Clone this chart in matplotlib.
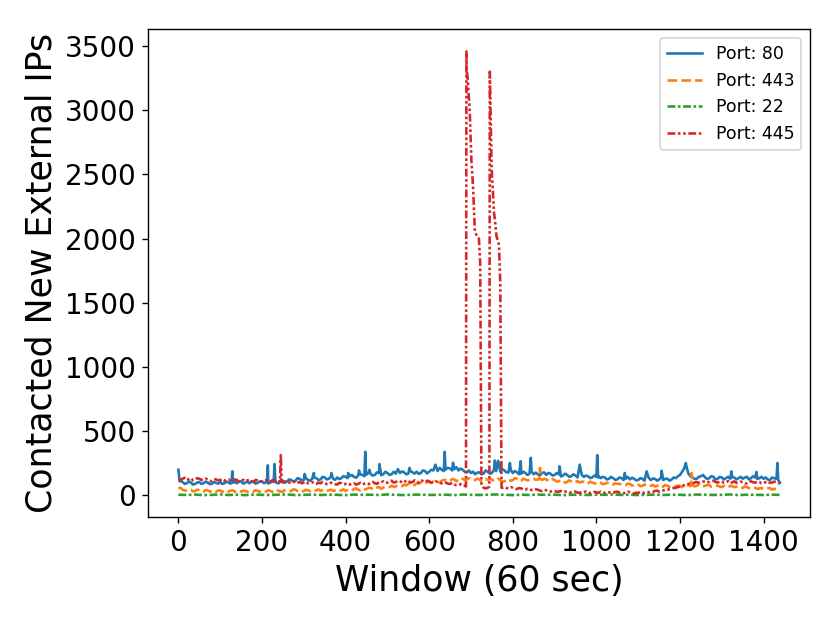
import numpy as np
import matplotlib
matplotlib.use("Agg")
import matplotlib.pyplot as plt

# ---- data ----
grid_windows = list(range(0, 1440, 10))
mid_windows = list(range(5, 1440, 10))

port80_grid = [
    200, 105, 95, 100, 90, 105, 95, 100, 92, 98,
    105, 95, 100, 100, 95, 110, 100, 95, 105, 100,
    110, 105, 100, 110, 95, 115, 110, 120, 115, 130,
    120, 120, 130, 135, 125, 140, 130, 130, 140, 135,
    145, 150, 145, 155, 160, 165, 165, 160, 175, 165,
    175, 165, 170, 175, 180, 170, 180, 185, 175, 190,
    185, 195, 190, 200, 205, 210, 205, 195, 200, 180,
    175, 165, 180, 170, 185, 175, 190, 185, 195, 180,
    175, 180, 170, 175, 170, 165, 165, 175, 160, 170,
    160, 165, 155, 160, 150, 155, 150, 145, 150, 140,
    145, 135, 140, 130, 135, 125, 135, 130, 125, 130,
    120, 130, 125, 120, 130, 125, 120, 130, 125, 135,
    160, 210, 170, 140, 130, 150, 140, 135, 145, 130,
    140, 135, 130, 140, 135, 130, 145, 135, 140, 135,
    130, 125, 140, 130,
]
port80_mid = [
    115, 90, 110, 85, 100, 90, 108, 88, 105, 92,
    90, 108, 92, 105, 110, 92, 108, 112, 92, 110,
    95, 92, 112, 98, 120, 100, 125, 108, 135, 118,
    135, 115, 140, 120, 145, 125, 148, 122, 128, 150,
    135, 160, 138, 165, 150, 175, 155, 180, 158, 185,
    160, 185, 160, 188, 165, 190, 170, 168, 195, 172,
    200, 180, 215, 190, 215, 195, 220, 210, 185, 195,
    185, 178, 165, 195, 170, 200, 175, 205, 180, 200,
    190, 165, 185, 160, 185, 178, 158, 180, 175, 155,
    175, 148, 170, 145, 165, 140, 160, 155, 135, 155,
    150, 145, 125, 145, 122, 140, 120, 145, 138, 118,
    135, 115, 138, 132, 115, 138, 130, 115, 140, 150,
    185, 230, 150, 128, 145, 160, 128, 150, 125, 145,
    125, 145, 140, 125, 145, 140, 125, 150, 128, 145,
    140, 118, 135, 120,
]
port80_extra_win = [3, 127, 129, 131, 212, 214, 216, 228, 230, 232, 302, 324, 366, 406,
                    432, 445, 447, 449, 457, 481, 525, 553, 615, 637, 639, 657, 757, 765,
                    793, 819, 843, 912, 960, 1002, 1004, 1068, 1120, 1156, 1214, 1323,
                    1383, 1431, 1433, 1435, 1439]
port80_extra_val = [110, 100, 188, 100, 105, 235, 105, 105, 245, 110, 167, 175, 175, 175,
                    195, 150, 340, 160, 200, 245, 205, 215, 240, 340, 200, 255, 272, 270,
                    253, 266, 293, 227, 240, 314, 140, 175, 188, 193, 253, 188,
                    183, 140, 253, 120, 100]

port443_grid = [
    55, 45, 40, 45, 35, 40, 30, 40, 35, 30,
    40, 35, 30, 40, 35, 30, 35, 40, 30, 35,
    40, 30, 35, 40, 35, 30, 40, 35, 45, 40,
    35, 40, 45, 40, 35, 45, 40, 35, 45, 40,
    35, 45, 50, 45, 55, 50, 60, 55, 65, 60,
    70, 75, 70, 80, 85, 90, 85, 95, 100, 95,
    105, 110, 105, 115, 120, 115, 125, 120, 130, 125,
    130, 120, 125, 115, 120, 125, 115, 120, 110, 125,
    120, 130, 115, 125, 120, 130, 125, 120, 125, 115,
    120, 110, 115, 105, 110, 105, 100, 105, 95, 100,
    95, 100, 90, 95, 85, 90, 85, 80, 90, 80,
    85, 75, 80, 75, 70, 80, 70, 75, 65, 70,
    75, 70, 80, 80, 75, 85, 75, 80, 70, 75,
    65, 70, 75, 65, 70, 60, 65, 55, 60, 55,
    50, 55, 45, 50,
]
port443_mid = [
    60, 38, 48, 32, 45, 28, 42, 30, 42, 38,
    28, 42, 38, 28, 40, 38, 28, 35, 42, 28,
    35, 42, 28, 45, 30, 42, 32, 48, 35, 30,
    45, 35, 38, 48, 42, 35, 45, 40, 35, 48,
    42, 38, 55, 40, 48, 58, 45, 62, 52, 68,
    65, 68, 80, 72, 78, 95, 80, 92, 88, 105,
    98, 115, 100, 120, 110, 128, 112, 135, 120, 135,
    118, 132, 110, 128, 130, 112, 130, 108, 125, 115,
    135, 112, 130, 118, 128, 122, 118, 130, 112, 128,
    108, 122, 100, 118, 98, 112, 108, 92, 108, 95,
    105, 88, 100, 82, 95, 92, 78, 92, 78, 90,
    72, 85, 70, 82, 75, 65, 82, 68, 75, 78,
    65, 82, 72, 70, 85, 72, 82, 68, 78, 70,
    75, 62, 72, 68, 58, 70, 58, 62, 52, 58,
    48, 58, 52, 42,
]
port443_extra_win = [863, 865, 867, 1226, 1228, 1230, 1439]
port443_extra_val = [125, 214, 130, 80, 175, 80, 45]

port22_windows = list(range(0, 1440, 20)) + [1439]
port22_values = [
    6, 4, 7, 3, 5, 8, 4, 6, 3, 7, 5, 4, 6, 8, 3, 5, 7, 4, 6, 5,
    3, 7, 5, 6, 4, 8, 5, 3, 6, 7, 4, 5, 6, 3, 7, 5, 4, 6, 8, 5,
    3, 6, 4, 7, 5, 6, 3, 5, 7, 4, 6, 5, 8, 4, 6, 3, 5, 7, 4, 6,
    5, 3, 7, 6, 4, 5, 8, 3, 6, 5, 4, 6, 5,
]

port445_grid = [
    125, 130, 120, 135, 125, 130, 120, 125, 115, 125,
    120, 115, 125, 110, 120, 115, 110, 120, 105, 115,
    110, 120, 105, 115, 110, 100, 110, 105, 95, 105,
    100, 95, 105, 90, 95, 100, 90, 95, 85, 95,
    90, 85, 95, 90, 85, 95, 100, 95, 105, 110,
    100, 115, 105, 110, 100, 115, 105, 110, 120, 105,
    110, 100, 105, 95, 100, 90, 85, 80, 75, 3300,
    2700, 2050, 1930, 60, 60, 2500, 2050, 1650, 65, 55,
    60, 50, 55, 45, 50, 40, 45, 35, 40, 30,
    35, 30, 25, 30, 25, 30, 20, 25, 30, 20,
    25, 30, 20, 25, 20, 30, 25, 20, 25, 15,
    20, 25, 20, 30, 35, 30, 40, 45, 55, 60,
    70, 80, 90, 95, 105, 100, 110, 105, 115, 100,
    110, 105, 95, 110, 100, 105, 95, 110, 100, 105,
    95, 110, 100, 105,
]
port445_mid = [
    120, 138, 128, 118, 135, 122, 132, 112, 128, 118,
    128, 122, 112, 125, 108, 122, 118, 108, 122, 108,
    118, 108, 120, 102, 118, 108, 100, 112, 100, 95,
    108, 100, 92, 100, 105, 88, 100, 88, 98, 85,
    95, 92, 85, 98, 92, 88, 105, 90, 102, 98,
    112, 100, 115, 102, 118, 100, 118, 100, 112, 115,
    100, 110, 98, 105, 92, 98, 80, 88, 75, 3100,
    2400, 2010, 80, 55, 3299, 2200, 1980, 60, 58, 65,
    52, 58, 45, 52, 42, 48, 38, 45, 32, 38,
    28, 35, 30, 22, 32, 22, 28, 32, 18, 28,
    20, 25, 28, 18, 28, 22, 18, 30, 18, 22,
    28, 18, 25, 28, 38, 35, 45, 50, 58, 65,
    75, 85, 92, 100, 98, 108, 102, 112, 105, 108,
    100, 112, 102, 98, 108, 95, 108, 102, 108, 95,
    105, 98, 108, 95,
]
port445_extra_win = [243, 245, 247, 688, 689, 692, 697, 701, 705, 709, 715, 719, 722, 725,
                     744, 745, 749, 753, 757, 761, 767, 770, 773, 1439]
port445_extra_val = [105, 314, 110, 70, 3456, 3250, 2990, 2600, 2400, 2070, 2010, 2000, 1810, 80,
                     70, 3299, 2600, 2330, 2150, 2016, 1940, 1650, 60, 100]

labels = ["Port: 80", "Port: 443", "Port: 22", "Port: 445"]


def merge(gv, mv, ew, ev):
    d = dict(zip(grid_windows, gv))
    d.update(dict(zip(mid_windows, mv)))
    d.update(dict(zip(ew, ev)))
    ks = sorted(d)
    return np.array(ks), np.array([d[k] for k in ks])


x80, y80 = merge(port80_grid, port80_mid, port80_extra_win, port80_extra_val)
x443, y443 = merge(port443_grid, port443_mid, port443_extra_win, port443_extra_val)
x445, y445 = merge(port445_grid, port445_mid, port445_extra_win, port445_extra_val)
x22, y22 = np.array(port22_windows), np.array(port22_values)

DPI = 125
fig = plt.figure(figsize=(830 / DPI, 623 / DPI), dpi=DPI)
ax = fig.add_axes([0.1787, 0.1697, 0.9759 - 0.1787, 0.953 - 0.1697])

lw = 1.5
ax.plot(x80, y80, color="#1f77b4", lw=lw, linestyle="-", label=labels[0])
ax.plot(x443, y443, color="#ff7f0e", lw=lw, linestyle="--", label=labels[1])
ax.plot(x22, y22, color="#2ca02c", lw=lw, linestyle=(0, (3, 1, 1, 1)), label=labels[2])
ax.plot(x445, y445, color="#d62728", lw=lw, linestyle=(0, (3, 1, 1, 1, 1, 1)), label=labels[3])

ax.set_xticks([0, 200, 400, 600, 800, 1000, 1200, 1400])
ax.set_yticks([0, 500, 1000, 1500, 2000, 2500, 3000, 3500])
ax.tick_params(labelsize=16)
ax.set_xlabel("Window (60 sec)", fontsize=20)
ax.set_ylabel("Contacted New External IPs", fontsize=20)
ax.legend(loc="upper right", fontsize=10)

fig.savefig("out.png", dpi=DPI)
